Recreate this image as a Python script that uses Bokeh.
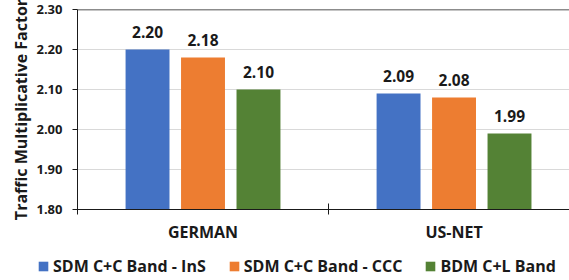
import numpy as np
from bokeh.plotting import figure
from bokeh.models import (ColumnDataSource, Range1d, FixedTicker, Legend, LegendItem, Span, Title)
from bokeh.core.properties import value
from bokeh.embed import file_html
from bokeh.resources import INLINE

categories = ["GERMAN", "US-NET"]
series_names = ["SDM C+C Band - InS", "SDM C+C Band - CCC", "BDM C+L Band"]
ins_values = [2.20, 2.09]
ccc_values = [2.18, 2.08]
cl_values = [2.10, 1.99]
colors = ["#4472C4", "#ED7D31", "#548235"]
y_ticks = [1.80, 1.90, 2.00, 2.10, 2.20, 2.30]
y_title = "Traffic Multiplicative Factor"

FONT = "Open Sans"
TXT = "#1a1a1a"

p = figure(width=569, height=250, output_backend="svg", toolbar_location=None,
           x_range=Range1d(0, 1.96), y_range=Range1d(1.8, 2.3),
           min_border_left=77, min_border_right=0, min_border_top=9, min_border_bottom=41)
p.outline_line_color = None

centers = np.arange(len(categories)) + 0.5
offsets = [-0.221, 0.0, 0.221]
all_vals = [ins_values, ccc_values, cl_values]
for vals, off, col in zip(all_vals, offsets, colors):
    src = ColumnDataSource(dict(x=centers + off, top=vals, lbl=["%.2f" % v for v in vals]))
    p.vbar(x="x", top="top", bottom=1.8, width=0.175, source=src,
           fill_color=col, line_color=None)
    p.text(x="x", y="top", text="lbl", source=src, text_align="center",
           text_baseline="alphabetic", y_offset=-18,
           text_font=value(FONT), text_font_style="bold", text_font_size="15.5px",
           text_color=TXT)

# grid
p.xgrid.grid_line_color = None
p.ygrid.grid_line_color = "#d9d9d9"
p.ygrid.ticker = FixedTicker(ticks=y_ticks)
p.add_layout(Span(location=y_ticks[-1], dimension="width", line_color=TXT, line_width=1.5))

# y axis
p.yaxis.ticker = FixedTicker(ticks=y_ticks)
p.yaxis.major_label_overrides = {t: "%.2f" % t for t in y_ticks}
p.yaxis.major_label_text_font = FONT
p.yaxis.major_label_text_font_style = "bold"
p.yaxis.major_label_text_font_size = "13px"
p.yaxis.major_label_text_color = TXT
p.yaxis.major_tick_out = 5
p.yaxis.major_tick_in = 0
p.yaxis.minor_tick_line_color = None
p.yaxis.axis_line_color = TXT
p.yaxis.major_tick_line_color = TXT
p.yaxis.major_label_standoff = 10

t = Title(text=y_title, align="center", offset=0, standoff=4,
          text_font=FONT, text_font_style="bold", text_font_size="16px", text_color=TXT)
p.add_layout(t, "left")

# x axis
p.xaxis.ticker = FixedTicker(ticks=list(centers), minor_ticks=list(np.arange(len(categories) + 1)))
p.xaxis.major_label_overrides = {float(c): n for c, n in zip(centers, categories)}
p.xaxis.major_label_text_font = FONT
p.xaxis.major_label_text_font_style = "bold"
p.xaxis.major_label_text_font_size = "16px"
p.xaxis.major_label_text_color = TXT
p.xaxis.major_tick_line_color = None
p.xaxis.major_label_standoff = 5
p.xaxis.minor_tick_line_color = TXT
p.xaxis.minor_tick_out = 5
p.xaxis.minor_tick_in = 6
p.xaxis.axis_line_color = TXT

# legend strip (separate root so its frame starts at the left edge)
lf = figure(width=569, height=30, output_backend="svg", toolbar_location=None,
            x_axis_type=None, y_axis_type=None,
            x_range=Range1d(0, 1), y_range=Range1d(0, 1),
            min_border_left=0, min_border_right=0, min_border_top=0, min_border_bottom=0)
lf.grid.grid_line_color = None
lf.outline_line_color = None
proxies = [lf.vbar(x=[-1], top=[-1], bottom=-2, width=0.1, fill_color=c, line_color=None) for c in colors]
legend = Legend(items=[LegendItem(label=n, renderers=[r]) for n, r in zip(series_names, proxies)],
                orientation="horizontal", location=(37, 3))
legend.padding = 0
legend.margin = 0
legend.spacing = 22
legend.glyph_width = 12
legend.glyph_height = 12
legend.label_standoff = 4
legend.label_text_font = FONT
legend.label_text_font_style = "bold"
legend.label_text_font_size = "16px"
legend.label_text_color = TXT
legend.border_line_color = None
legend.background_fill_alpha = 0
lf.add_layout(legend, "center")

open("out.html", "w").write(file_html([p, lf], INLINE))
